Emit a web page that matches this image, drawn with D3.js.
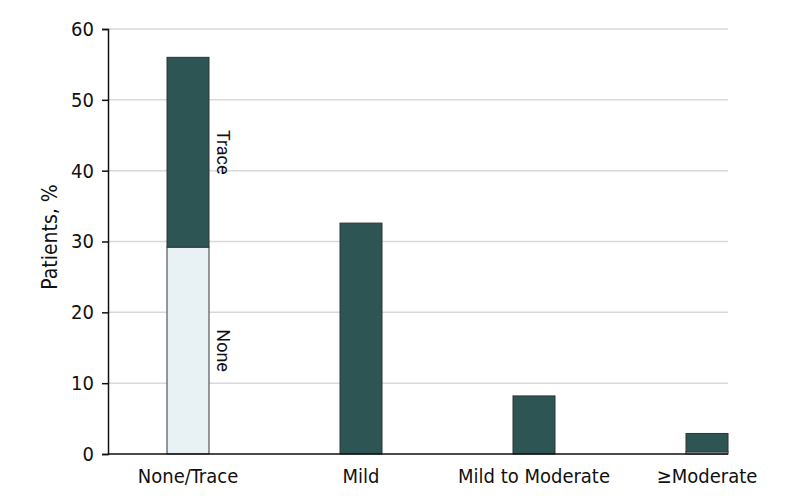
<!DOCTYPE html>
<html>
<head>
<meta charset="utf-8">
<script src="https://cdn.jsdelivr.net/npm/d3@7"></script>
<style>
  body { margin: 0; background: #fff; }
  text { font-family: "Liberation Sans Narrow", "DejaVu Sans Condensed", "Roboto", sans-serif; }
</style>
</head>
<body>
<svg class="view" width="798" height="504"></svg>
<script>
var categories = ['None/Trace', 'Mild', 'Mild to Moderate', '\u2265Moderate'];
var noneValues = [29.2, 0, 0, 0.3];
var traceValues = [26.8, 32.6, 8.2, 2.6];
var yTicks = [0, 10, 20, 30, 40, 50, 60];

var svg = d3.select('.view'),
    plotLeft = 108, plotRight = 728, plotTop = 29, plotBottom = 454,
    barWidth = 42;

var x = d3.scalePoint()
    .domain(categories)
    .range([188, 707]);

var y = d3.scaleLinear()
    .domain([0, 60])
    .range([plotBottom, plotTop]);

// gridlines
svg.append('g')
    .selectAll('line')
    .data(yTicks.filter(function (d) { return d > 0; }))
    .enter().append('line')
    .attr('x1', plotLeft)
    .attr('x2', plotRight)
    .attr('y1', function (d) { return y(d); })
    .attr('y2', function (d) { return y(d); })
    .attr('stroke', '#d9d9d9')
    .attr('stroke-width', 1.5);

var stacked = categories.map(function (c, i) {
    return { cat: c, none: noneValues[i], trace: traceValues[i] };
});

var bars = svg.append('g');

bars.selectAll('rect.none')
    .data(stacked.filter(function (d) { return d.none > 0; }))
    .enter().append('rect')
    .attr('class', 'none')
    .attr('x', function (d) { return x(d.cat) - barWidth / 2; })
    .attr('width', barWidth)
    .attr('y', function (d) { return y(d.none); })
    .attr('height', function (d) { return y(0) - y(d.none); })
    .attr('fill', '#e8f2f4')
    .attr('stroke', '#555')
    .attr('stroke-width', 1.2);

bars.selectAll('rect.trace')
    .data(stacked)
    .enter().append('rect')
    .attr('class', 'trace')
    .attr('x', function (d) { return x(d.cat) - barWidth / 2; })
    .attr('width', barWidth)
    .attr('y', function (d) { return y(d.none + d.trace); })
    .attr('height', function (d) { return y(d.none) - y(d.none + d.trace); })
    .attr('fill', '#2c5553')
    .attr('stroke', '#333')
    .attr('stroke-width', 1);

// segment labels on first bar
var first = stacked[0];
var labelX = x(first.cat) + barWidth / 2 + 8;
[['Trace', first.none + first.trace / 2], ['None', first.none / 2]].forEach(function (l) {
    svg.append('text')
        .attr('transform', 'translate(' + labelX + ',' + y(l[1]) + ') rotate(90)')
        .attr('text-anchor', 'middle')
        .attr('font-size', 18)
        .style('font-family', 'Roboto, sans-serif')
        .attr('fill', '#111')
        .text(l[0]);
});

// y axis
var yAxis = svg.append('g')
    .attr('transform', 'translate(' + plotLeft + ',0)')
    .call(d3.axisLeft(y).tickValues(yTicks).tickSize(6).tickPadding(8));
yAxis.attr('font-family', null);
yAxis.select('.domain').attr('stroke', '#111').attr('stroke-width', 1.5);
yAxis.selectAll('.tick line').attr('stroke', '#111').attr('stroke-width', 1.5);
yAxis.selectAll('.tick text')
    .attr('font-size', 20)
    .attr('fill', '#111');

// x baseline
svg.append('line')
    .attr('x1', plotLeft)
    .attr('x2', plotRight)
    .attr('y1', y(0))
    .attr('y2', y(0))
    .attr('stroke', '#111')
    .attr('stroke-width', 1.5);

svg.append('g')
    .selectAll('text')
    .data(categories)
    .enter().append('text')
    .attr('x', function (d) { return x(d); })
    .attr('y', 483)
    .attr('text-anchor', 'middle')
    .attr('font-size', 20)
    .attr('fill', '#111')
    .text(function (d) { return d; });

svg.append('text')
    .attr('transform', 'translate(57,237) rotate(-90)')
    .attr('text-anchor', 'middle')
    .attr('font-size', 21)
    .attr('fill', '#111')
    .text('Patients, %');
</script>
</body>
</html>
